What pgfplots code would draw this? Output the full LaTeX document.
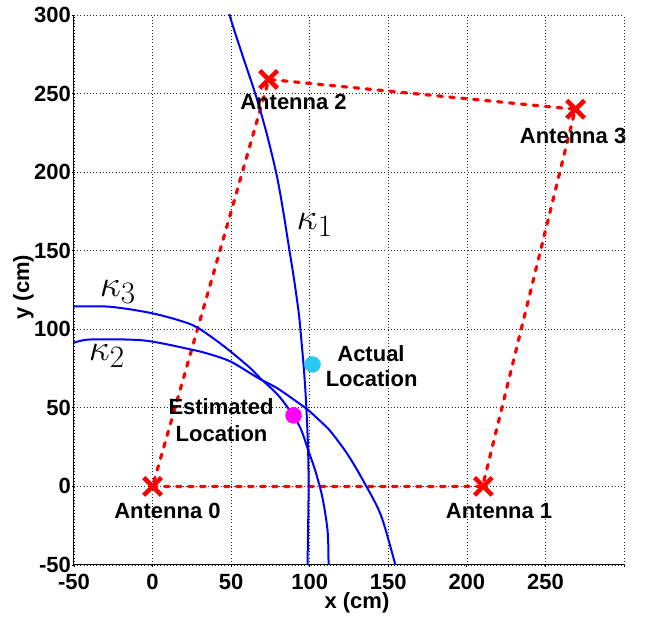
\documentclass[border=0pt]{standalone}
\usepackage[no-math]{fontspec}
\setmainfont{Liberation Sans}
\usepackage{graphicx}
\usepackage{pgfplots}
\pgfplotsset{compat=1.18}
\newcommand\lbl{\fontsize{22}{26}\selectfont\bfseries}
\newcommand\kap{\fontsize{24.88}{30}\selectfont}
\newcommand\K[1]{\scalebox{1.5}{$\kappa_{#1}$}}
\definecolor{cyanpt}{RGB}{45,200,240}
\definecolor{magpt}{RGB}{255,0,255}
\begin{document}
\begin{tikzpicture}
\useasboundingbox (-74pt,-55pt) rectangle (572pt,565pt);
\begin{axis}[
  at={(0pt,0pt)}, anchor=south west,
  scale only axis, width=550pt, height=550pt,
  xmin=-50, xmax=300, ymin=-50, ymax=300,
  axis x line*=bottom, axis y line*=left,
  axis line style={line width=1pt, black, -},
  xtick={-50,0,50,100,150,200,250,300},
  ytick={-50,0,50,100,150,200,250,300},
  xticklabels={-50,0,50,100,150,200,250,{}},
  yticklabels={-50,0,50,100,150,200,250,300},
  ticklabel style={font=\lbl},
  yticklabel style={inner xsep=0pt, xshift=-1pt},
  xticklabel style={inner ysep=0pt, yshift=-7pt},
  grid=major,
  major grid style={black!85, line width=0.7pt, dash pattern=on 1pt off 2.2pt},
  tick align=outside, major tick length=2pt,
  tick style={black, line width=0.8pt},
  xlabel={x (cm)}, ylabel={y (cm)},
  label style={font=\lbl},
  xlabel style={at={(axis description cs:0.5145,-0.0691)}, anchor=center},
  ylabel style={at={(axis description cs:-0.0918,0.505)}, anchor=center},
  clip mode=individual,
]
% red dashed quadrilateral
\addplot[red, line width=3.2pt, line cap=round, dash pattern=on 4.5pt off 7.5pt] coordinates {(0,0)(210,0)(269,240)(74,259)(0,0)};
% kappa curves
\addplot[blue, line width=2pt, smooth] coordinates {
(47.5,310)(49,300)(57,275)(65.5,249.5)(72.5,225)(78.9,198.5)(83,176)(86.5,154)(90,132)(92.9,111.4)(94.2,98.6)(96.5,72)(98,47.7)(99,22)(99.3,0)(99,-25)(98.6,-50)(98.5,-55)};
\addplot[blue, line width=2pt, smooth] coordinates {
(-55,114.5)(-50,114.5)(-26.7,114.3)(0.6,110)(24.2,103.2)(36.9,95.5)(49.6,85.9)(62.4,75.1)(68.7,68.7)(79.5,58.5)(87.8,47.7)(94.2,36.9)(99.3,22.3)(103.7,9.5)(108.2,-7.6)(111.4,-28.6)(112,-49.6)(112,-55)};
\addplot[blue, line width=2pt, smooth] coordinates {
(-55,91.4)(-50,91.6)(-39.5,93.5)(-5.7,92.9)(24.2,87.2)(36.9,84)(49.6,79.5)(62.4,71.9)(68.7,68.1)(79.5,62.4)(94.2,52.2)(98.6,49)(106.9,41.4)(113.3,35)(124.1,20.4)(134.3,3.2)(145.1,-17.8)(153.4,-45.8)(154.6,-51)};
% antennas
\addplot[only marks, mark=x, mark size=12.5pt, red, line width=4.5pt] coordinates {(0,0)(210.5,0)(73.8,259)(269.2,240)};
% locations
\addplot[only marks, mark=*, mark size=8pt, color=cyanpt] coordinates {(101.8,77.6)};
\addplot[only marks, mark=*, mark size=8pt, color=magpt] coordinates {(89.7,45.2)};
% labels
\node[font=\lbl, anchor=base, inner sep=0pt] at (axis cs:9.5,-20.4) {Antenna 0};
\node[font=\lbl, anchor=base, inner sep=0pt] at (axis cs:220.5,-20.4) {Antenna 1};
\node[font=\lbl, anchor=base, inner sep=0pt] at (axis cs:89.7,239.9) {Antenna 2};
\node[font=\lbl, anchor=base, inner sep=0pt] at (axis cs:267.6,218.3) {Antenna 3};
\node[font=\lbl, anchor=base, inner sep=0pt] at (axis cs:139.0,79.5) {Actual};
\node[font=\lbl, anchor=base, inner sep=0pt] at (axis cs:139.4,63.6) {Location};
\node[font=\lbl, anchor=base, inner sep=0pt] at (axis cs:43.6,45.8) {Estimated};
\node[font=\lbl, anchor=base, inner sep=0pt] at (axis cs:43.9,28.6) {Location};
\node[font=\kap, anchor=base west, inner sep=0pt] at (axis cs:91.6,163.5) {\K{1}};
\node[font=\kap, anchor=base west, inner sep=0pt] at (axis cs:-33.7,120.9) {\K{3}};
\node[font=\kap, anchor=base west, inner sep=0pt] at (axis cs:-40.7,80.2) {\K{2}};
\end{axis}
\end{tikzpicture}
\end{document}
